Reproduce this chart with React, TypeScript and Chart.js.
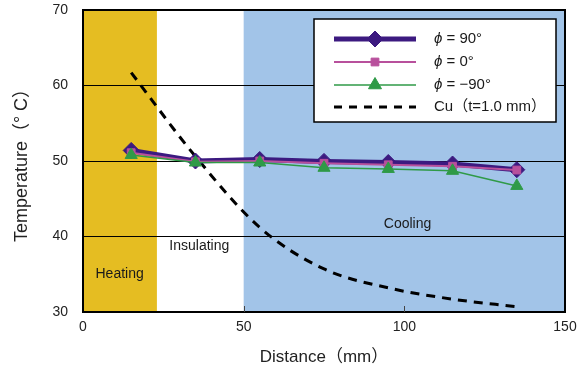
import React, { useEffect, useRef } from "react";
import { Chart, registerables } from "chart.js";

Chart.register(...registerables);

const distance = [15, 35, 55, 75, 95, 115, 135];
const phi90 = [51.4, 50.0, 50.2, 49.95, 49.8, 49.6, 48.85];
const phi0 = [51.1, 49.9, 50.0, 49.7, 49.5, 49.3, 48.8];
const phiMinus90 = [50.8, 49.8, 49.8, 49.1, 48.95, 48.7, 46.7];
const copper = [61.7, 50.6, 41.2, 35.7, 33.2, 31.7, 30.7];

const seriesNames = ["90°", "0°", "−90°"];
const copperName = "Cu（t=1.0 mm）";
const regionNames = ["Heating", "Insulating", "Cooling"];
const heatingEnd = 23;
const coolingStart = 50;
const xTicks = [0, 50, 100, 150];
const yTicks = [30, 40, 50, 60, 70];

const FONT = "'Liberation Sans', Arial, 'Noto Sans CJK JP', sans-serif";
const PURPLE = "#3c1a80";
const PINK = "#b8509c";
const GREEN = "#2f9a47";
const YELLOW = "#e5bd22";
const BLUE = "#a2c4e8";

const toXY = (ys: number[]) => ys.map((y, i) => ({ x: distance[i], y }));

function drawPoint(ctx: CanvasRenderingContext2D, style: string, r: number, x: number, y: number) {
  ctx.beginPath();
  if (style === "rectRot") {
    ctx.moveTo(x - r, y);
    ctx.lineTo(x, y - r);
    ctx.lineTo(x + r, y);
    ctx.lineTo(x, y + r);
  } else if (style === "rect") {
    const s = Math.SQRT1_2 * r;
    ctx.rect(x - s, y - s, 2 * s, 2 * s);
  } else {
    const h = r;
    ctx.moveTo(x, y - h);
    ctx.lineTo(x + (h * Math.sqrt(3)) / 2, y + h / 2);
    ctx.lineTo(x - (h * Math.sqrt(3)) / 2, y + h / 2);
  }
  ctx.closePath();
  ctx.fill();
  ctx.stroke();
}

const decorPlugin = {
  id: "decor",
  beforeDraw(chart: any) {
    const { ctx, chartArea: a, scales } = chart;
    const xs = scales.x;
    ctx.save();
    ctx.fillStyle = "#ffffff";
    ctx.fillRect(a.left, a.top, a.right - a.left, a.bottom - a.top);
    ctx.fillStyle = YELLOW;
    const h1 = xs.getPixelForValue(heatingEnd);
    ctx.fillRect(a.left, a.top, h1 - a.left, a.bottom - a.top);
    ctx.fillStyle = BLUE;
    const c0 = xs.getPixelForValue(coolingStart);
    ctx.fillRect(c0, a.top, a.right - c0, a.bottom - a.top);
    ctx.restore();
  },
  beforeDatasetsDraw(chart: any) {
    const { ctx, chartArea: a, scales } = chart;
    const xs = scales.x;
    const ys = scales.y;
    ctx.save();
    ctx.strokeStyle = "#000";
    ctx.lineWidth = 2;
    ctx.strokeRect(a.left, a.top, a.right - a.left, a.bottom - a.top);
    ctx.strokeStyle = "#444";
    ctx.lineWidth = 1;
    [50, 100].forEach((v) => {
      const px = Math.round(xs.getPixelForValue(v)) + 0.5;
      ctx.beginPath();
      ctx.moveTo(px, a.bottom);
      ctx.lineTo(px, a.bottom - 6);
      ctx.stroke();
    });
    ctx.fillStyle = "#1a1a1a";
    ctx.font = `14px ${FONT}`;
    ctx.textAlign = "center";
    ctx.textBaseline = "middle";
    ctx.fillText(regionNames[0], xs.getPixelForValue(11.4), ys.getPixelForValue(35.0));
    ctx.fillText(regionNames[1], xs.getPixelForValue(36.2), ys.getPixelForValue(38.7));
    ctx.fillText(regionNames[2], xs.getPixelForValue(101), ys.getPixelForValue(41.7));
    ctx.restore();
  },
  afterDraw(chart: any) {
    const { ctx, chartArea: a } = chart;
    const bx = a.right - 251;
    const by = a.top + 9;
    const bw = 242;
    const bh = 103;
    ctx.save();
    ctx.fillStyle = "#fff";
    ctx.fillRect(bx, by, bw, bh);
    ctx.strokeStyle = "#000";
    ctx.lineWidth = 1.5;
    ctx.strokeRect(bx, by, bw, bh);
    const lx0 = bx + 20;
    const lx1 = bx + 102;
    const mx = (lx0 + lx1) / 2;
    const tx = bx + 120;
    const rows = [by + 20, by + 43, by + 66, by + 88];
    const styles = [
      { color: PURPLE, width: 5, style: "rectRot", r: 8 },
      { color: PINK, width: 2, style: "rect", r: 5.5 },
      { color: GREEN, width: 1.5, style: "triangle", r: 7.5 },
    ];
    styles.forEach((s, i) => {
      const y = rows[i];
      ctx.strokeStyle = s.color;
      ctx.lineWidth = s.width;
      ctx.beginPath();
      ctx.moveTo(lx0, y);
      ctx.lineTo(lx1, y);
      ctx.stroke();
      ctx.fillStyle = s.color;
      ctx.strokeStyle = s.color;
      ctx.lineWidth = 1;
      drawPoint(ctx, s.style, s.r, mx, y);
      ctx.fillStyle = "#1a1a1a";
      ctx.textAlign = "left";
      ctx.textBaseline = "middle";
      ctx.font = `italic 15px ${FONT}`;
      ctx.fillText("ϕ", tx, y);
      const w = ctx.measureText("ϕ").width;
      ctx.font = `15px ${FONT}`;
      ctx.fillText(" = " + seriesNames[i], tx + w, y);
    });
    const y = rows[3];
    ctx.strokeStyle = "#000";
    ctx.lineWidth = 3;
    ctx.setLineDash([8, 7]);
    ctx.beginPath();
    ctx.moveTo(lx0, y);
    ctx.lineTo(lx1, y);
    ctx.stroke();
    ctx.setLineDash([]);
    ctx.fillStyle = "#1a1a1a";
    ctx.font = `15px ${FONT}`;
    ctx.textAlign = "left";
    ctx.textBaseline = "middle";
    ctx.fillText(copperName, tx, y);
    ctx.restore();
  },
};

export default function App() {
  const ref = useRef<HTMLCanvasElement>(null);
  useEffect(() => {
    if (!ref.current) return;
    const chart = new Chart(ref.current, {
      type: "line",
      data: {
        datasets: [
          {
            label: "ϕ = " + seriesNames[2],
            data: toXY(phiMinus90),
            borderColor: GREEN,
            backgroundColor: GREEN,
            borderWidth: 1.5,
            pointStyle: "triangle",
            pointRadius: 7,
            pointBorderWidth: 1,
            order: 1,
          },
          {
            label: "ϕ = " + seriesNames[1],
            data: toXY(phi0),
            borderColor: PINK,
            backgroundColor: PINK,
            borderWidth: 2,
            pointStyle: "rect",
            pointRadius: 5.5,
            pointBorderWidth: 1,
            order: 2,
          },
          {
            label: "ϕ = " + seriesNames[0],
            data: toXY(phi90),
            borderColor: PURPLE,
            backgroundColor: PURPLE,
            borderWidth: 5,
            pointStyle: "rectRot",
            pointRadius: 8,
            pointBorderWidth: 1,
            order: 3,
          },
          {
            label: copperName,
            data: toXY(copper),
            borderColor: "#000",
            borderWidth: 3,
            borderDash: [9, 7],
            pointRadius: 0,
            cubicInterpolationMode: "monotone",
            order: 4,
          },
        ],
      },
      options: {
        animation: false,
        responsive: false,
        maintainAspectRatio: false,
        layout: { padding: { left: 0, top: 10, right: 23, bottom: 0 } },
        plugins: { legend: { display: false }, tooltip: { enabled: false } },
        scales: {
          x: {
            type: "linear",
            min: 0,
            max: 150,
            afterFit: (s: any) => {
              s.height = 62;
              s.paddingLeft = 0;
              s.paddingRight = 0;
            },
            afterBuildTicks: (s: any) => {
              s.ticks = xTicks.map((v) => ({ value: v }));
            },
            grid: { display: false, drawTicks: false },
            border: { display: false },
            ticks: {
              color: "#222",
              font: { family: FONT, size: 14 },
              padding: 7,
              maxRotation: 0,
            },
            title: {
              display: true,
              text: "Distance（mm）",
              color: "#222",
              font: { family: FONT, size: 17 },
              padding: { top: 0, bottom: 6 },
            },
          },
          y: {
            min: 30,
            max: 70,
            afterFit: (s: any) => {
              s.width = 83;
              s.paddingTop = 0;
              s.paddingBottom = 0;
            },
            afterBuildTicks: (s: any) => {
              s.ticks = yTicks.map((v) => ({ value: v }));
            },
            grid: {
              color: (c: any) =>
                c.tick && (c.tick.value === 30 || c.tick.value === 70) ? "rgba(0,0,0,0)" : "#000",
              lineWidth: 1,
              drawTicks: false,
            },
            border: { display: false },
            ticks: {
              color: "#222",
              font: { family: FONT, size: 14 },
              padding: 15,
            },
            title: {
              display: true,
              text: "Temperature（° C）",
              color: "#222",
              font: { family: FONT, size: 18 },
              padding: { top: 11, bottom: 0 },
            },
          },
        },
      },
      plugins: [decorPlugin],
    });
    return () => chart.destroy();
  }, []);
  return (
    <div style={{ position: "absolute", left: 0, top: 0, width: 588, height: 374, background: "#fff" }}>
      <canvas ref={ref} width={588} height={374} style={{ width: 588, height: 374, display: "block" }} />
    </div>
  );
}
